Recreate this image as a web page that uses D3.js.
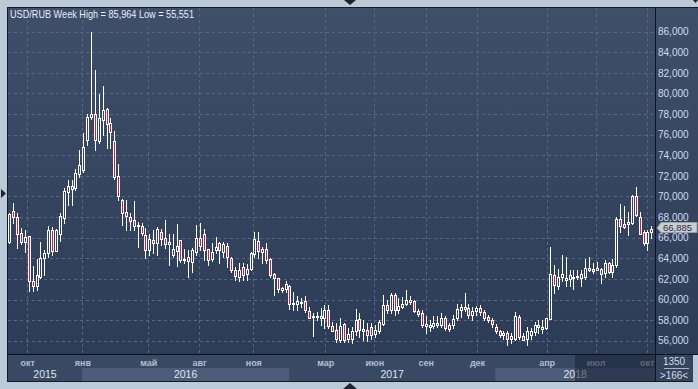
<!DOCTYPE html>
<html>
<head>
<meta charset="utf-8">
<script src="https://cdn.jsdelivr.net/npm/d3@7/dist/d3.min.js"></script>
<style>
  body { margin: 0; background: #bcc9d8; }
  svg { display: block; font-family: "Liberation Sans", Arial, sans-serif; }
</style>
</head>
<body>
<svg id="chart" width="698" height="389"></svg>
<script>
// Weekly USD/RUB candles (166 bars)
const opens = [
  65.6, 68.6, 68.0, 66.5, 65.6, 66.2, 61.8, 61.3, 62.2, 64.0,
  64.5, 66.75, 64.7, 66.4, 67.9, 70.4, 71.0, 70.8, 72.2, 72.6,
  75.5, 77.75, 78.0, 75.4, 77.4, 78.5, 77.1, 75.4, 72.0, 69.65,
  68.5, 68.0, 67.7, 67.1, 67.1, 66.25, 64.8, 65.8, 65.5, 66.6,
  66.0, 65.4, 64.3, 64.7, 65.8, 63.9, 64.15, 63.6, 64.6, 66.0,
  66.4, 64.95, 63.9, 64.8, 65.5, 64.6, 65.2, 64.0, 62.9, 62.2,
  63.2, 62.5, 63.0, 64.4, 65.7, 64.6, 64.95, 63.9, 62.5, 62.1,
  60.9, 61.0, 61.3, 59.6, 59.55, 59.65, 59.9, 58.9, 58.3, 58.4,
  58.2, 58.2, 59.0, 57.4, 57.0, 56.05, 57.6, 56.2, 56.15, 56.9,
  58.1, 57.1, 57.05, 57.3, 56.65, 56.95, 57.65, 59.5, 59.0, 60.45,
  59.0, 59.3, 59.6, 59.8, 59.85, 58.9, 58.7, 57.4, 57.3, 57.45,
  57.55, 57.5, 58.2, 57.5, 57.5, 58.2, 59.0, 59.3, 59.15, 58.45,
  58.9, 59.2, 58.8, 58.3, 58.0, 57.3, 56.95, 56.6, 56.7, 56.2,
  56.2, 58.3, 56.45, 56.15, 56.55, 56.8, 57.5, 57.1, 57.2, 58.1,
  62.35, 61.3, 62.15, 61.9, 61.95, 62.05, 62.15, 62.05, 62.15, 62.9,
  63.0, 62.9, 63.0, 62.55, 63.5, 62.7, 63.35, 67.8, 67.3, 67.3,
  67.45, 70.0, 68.05, 66.6, 65.5, 66.6,
];
const highs = [
  68.4, 69.4, 68.4, 66.9, 66.75, 66.2, 63.3, 63.9, 65.6, 64.8,
  67.1, 67.0, 66.8, 68.4, 70.8, 71.6, 71.6, 72.7, 74.5, 76.2,
  78.0, 85.964, 82.3, 79.95, 80.7, 78.6, 77.6, 76.4, 73.15, 69.8,
  69.65, 68.4, 69.6, 67.55, 67.4, 66.9, 66.4, 66.75, 67.05, 66.8,
  67.7, 66.4, 66.4, 67.3, 65.8, 64.9, 64.85, 65.0, 67.2, 67.45,
  66.8, 64.95, 65.45, 66.1, 65.6, 65.6, 65.45, 64.15, 63.2, 63.5,
  63.5, 63.4, 64.6, 66.6, 66.6, 65.1, 65.5, 64.0, 62.55, 62.1,
  61.2, 61.8, 61.4, 60.7, 60.35, 60.1, 60.3, 59.3, 58.65, 58.8,
  59.15, 59.5, 59.5, 57.85, 57.7, 58.2, 57.7, 57.2, 57.35, 59.05,
  58.65, 58.0, 57.7, 57.75, 57.5, 58.0, 60.45, 59.95, 60.65, 60.6,
  60.1, 60.25, 60.9, 60.35, 60.0, 59.05, 59.0, 58.35, 58.0, 58.4,
  58.4, 58.65, 58.35, 57.7, 58.5, 59.6, 59.6, 60.65, 59.6, 59.3,
  59.35, 59.45, 59.0, 58.5, 58.2, 57.6, 57.0, 56.95, 56.9, 56.7,
  58.8, 58.5, 56.7, 57.35, 57.2, 57.85, 58.05, 58.0, 58.2, 65.1,
  63.35, 63.0, 64.3, 64.15, 62.85, 62.85, 62.9, 62.9, 63.9, 64.15,
  63.55, 63.65, 63.1, 63.85, 63.65, 63.9, 68.05, 69.3, 69.05, 68.5,
  70.15, 70.9, 68.5, 66.75, 66.75, 67.15,
];
const lows = [
  65.5, 67.4, 65.0, 65.4, 64.6, 60.8, 60.8, 60.9, 62.1, 62.4,
  64.1, 64.3, 64.7, 65.7, 67.4, 69.2, 69.2, 70.6, 71.9, 72.4,
  75.0, 77.5, 74.5, 75.2, 76.0, 74.7, 74.7, 71.7, 69.65, 67.2,
  66.75, 66.75, 66.75, 65.1, 66.25, 64.0, 64.3, 64.5, 64.3, 65.3,
  65.0, 63.35, 64.15, 63.3, 63.6, 63.5, 62.2, 62.7, 64.3, 64.8,
  63.8, 63.35, 63.75, 64.5, 63.5, 64.1, 63.2, 62.7, 61.9, 61.8,
  61.9, 61.9, 62.9, 64.15, 64.0, 63.5, 63.5, 62.2, 60.4, 60.75,
  60.75, 60.7, 59.1, 59.0, 58.95, 59.3, 58.8, 58.2, 56.45, 58.0,
  57.5, 57.2, 57.2, 56.9, 55.9, 55.9, 55.9, 55.9, 55.8, 56.55,
  56.4, 56.05, 56.0, 56.2, 56.4, 56.7, 57.5, 58.65, 58.65, 58.5,
  58.65, 59.15, 59.5, 59.6, 58.8, 58.4, 57.35, 56.75, 56.9, 57.2,
  57.35, 57.3, 57.05, 56.95, 57.2, 58.0, 58.3, 58.9, 58.2, 58.0,
  58.5, 58.5, 58.05, 57.85, 57.35, 56.7, 56.4, 56.2, 55.551, 55.8,
  56.1, 56.2, 56.05, 55.6, 56.2, 56.55, 56.7, 56.7, 57.1, 58.1,
  60.6, 61.0, 61.75, 61.3, 61.3, 61.0, 61.95, 61.3, 61.95, 62.8,
  62.6, 62.85, 61.6, 62.15, 62.55, 62.15, 63.2, 66.6, 66.9, 66.25,
  67.3, 68.1, 66.4, 65.3, 64.8, 65.95,
];
const closes = [
  68.3, 68.0, 66.4, 65.6, 66.1, 61.8, 61.3, 62.4, 64.0, 64.5,
  66.75, 64.7, 66.7, 68.1, 70.5, 71.0, 70.7, 72.25, 73.1, 74.8,
  77.75, 78.0, 75.5, 77.6, 78.4, 77.0, 76.3, 71.9, 70.0, 68.4,
  68.1, 67.65, 67.1, 67.2, 66.5, 64.8, 65.9, 65.45, 66.8, 65.9,
  65.35, 65.6, 64.9, 65.2, 63.8, 63.8, 63.7, 64.8, 65.95, 65.2,
  64.8, 63.8, 64.6, 65.1, 64.8, 65.35, 64.1, 62.9, 62.3, 62.9,
  62.4, 62.95, 64.5, 65.9, 64.75, 64.9, 63.8, 62.4, 62.1, 61.0,
  61.1, 61.55, 59.6, 59.7, 59.9, 59.8, 59.0, 58.25, 58.35, 58.4,
  58.4, 59.0, 57.4, 56.9, 56.2, 57.4, 56.05, 56.65, 56.95, 58.0,
  57.05, 56.9, 56.55, 56.55, 57.05, 57.85, 59.5, 58.95, 60.45, 59.0,
  59.35, 59.6, 60.0, 59.95, 58.9, 58.55, 57.5, 57.65, 57.5, 57.7,
  57.7, 58.2, 57.2, 57.1, 58.1, 59.05, 59.25, 59.05, 58.45, 58.9,
  59.15, 58.8, 58.25, 58.05, 57.6, 56.95, 56.55, 56.7, 56.2, 56.5,
  58.35, 56.4, 56.1, 56.9, 56.9, 57.5, 57.3, 57.3, 58.2, 62.45,
  61.4, 62.15, 62.45, 62.1, 62.4, 62.2, 62.3, 62.45, 63.1, 63.1,
  62.8, 63.05, 62.45, 63.5, 62.7, 63.35, 67.8, 67.15, 67.0, 67.55,
  70.0, 68.2, 66.4, 65.5, 66.6, 66.885,
];

// price axis ticks
const yTicks = d3.range(56, 87, 2);
// month ticks (bar positions) and labels
const monthPos = [4.6, 18.8, 35.7, 48.8, 62.7, 81.2, 93.8, 107, 120.2, 138.1, 150.7, 163.8];
const monthLabels = ['окт', 'янв', 'май', 'авг', 'ноя', 'мар', 'июн', 'сен', 'дек', 'апр', 'июл', 'окт'];
// years and the bar position where each starts
const years = ['2015', '2016', '2017', '2018'];
const yearStart = [-1, 18.7, 71.9, 124.9];
const viewStart = 145.4; // shaded part of the time scale

const svg = d3.select('#chart');
const plot = { left: 8, right: 655, top: 8, bottom: 354 };
const ru = d3.formatLocale({ decimal: ',', thousands: ' ', grouping: [3], currency: ['', ''] });
const fmt = ru.format('.3f');

const x = d3.scaleLinear().domain([0, opens.length - 1]).range([9.3, 651.3]);
const y = d3.scaleLinear().domain([56, 86]).range([340.7, 31.7]);

const candles = opens.map((o, i) => ({
  i, o, h: highs[i], l: lows[i], c: closes[i],
}));

// background gradient
const defs = svg.append('defs');
const grad = defs.append('linearGradient').attr('id', 'bg')
  .attr('gradientUnits', 'userSpaceOnUse')
  .attr('x1', 0).attr('y1', plot.top).attr('x2', 0).attr('y2', plot.bottom);
grad.append('stop').attr('offset', 0).attr('stop-color', '#3f4e69');
grad.append('stop').attr('offset', 1).attr('stop-color', '#2c3b56');
defs.append('clipPath').attr('id', 'clip').append('rect')
  .attr('x', plot.left).attr('y', plot.top)
  .attr('width', plot.right - plot.left).attr('height', plot.bottom - plot.top);

// panel
svg.append('rect').attr('x', 7.5).attr('y', 7.5).attr('width', 700).attr('height', 374)
  .attr('fill', 'url(#bg)').attr('stroke', '#131a28');

// grid
const grid = svg.append('g').attr('stroke', '#56668a').attr('stroke-dasharray', '3,3');
grid.selectAll('.hg').data(yTicks).enter().append('line')
  .attr('x1', plot.left).attr('x2', plot.right)
  .attr('y1', d => Math.round(y(d)) + 0.5).attr('y2', d => Math.round(y(d)) + 0.5);
grid.selectAll('.vg').data(monthPos).enter().append('line')
  .attr('x1', d => Math.round(x(d)) + 0.5).attr('x2', d => Math.round(x(d)) + 0.5)
  .attr('y1', plot.top).attr('y2', plot.bottom);

// candles
const g = svg.append('g').attr('clip-path', 'url(#clip)');
g.selectAll('.wick').data(candles).enter().append('line')
  .attr('x1', d => Math.round(x(d.i)) + 0.5).attr('x2', d => Math.round(x(d.i)) + 0.5)
  .attr('y1', d => Math.round(y(d.h))).attr('y2', d => Math.round(y(d.l)) + 1)
  .attr('stroke', '#fff');
g.selectAll('.body').data(candles).enter().append('rect')
  .attr('x', d => Math.round(x(d.i)) - 0.5)
  .attr('width', 2)
  .attr('y', d => Math.round(y(Math.max(d.o, d.c))) + 0.5)
  .attr('height', d => Math.max(1, Math.round(y(Math.min(d.o, d.c))) - Math.round(y(Math.max(d.o, d.c)))))
  .attr('fill', d => (d.c >= d.o ? 'url(#bg)' : '#e0173c'))
  .attr('stroke', '#fff');

// title, squeezed to the width it has in the picture
const title = svg.append('text').attr('x', 10).attr('y', 18)
  .attr('font-size', '10.5px').attr('fill', '#e8eef7')
  .text(`USD/RUB Week High = ${fmt(d3.max(highs))} Low = ${fmt(d3.min(lows))}`);
if (title.node().getComputedTextLength() > 184) {
  title.attr('textLength', 184).attr('lengthAdjust', 'spacingAndGlyphs');
}

// price axis
const yAxis = svg.append('g').attr('transform', `translate(${plot.right},0)`)
  .call(d3.axisRight(y).tickValues(yTicks).tickFormat(fmt).tickSize(0).tickPadding(3));
yAxis.select('.domain').remove();
yAxis.selectAll('text').attr('font-size', '10px').attr('fill', '#cfdcf0')
  .attr('font-family', '"Liberation Sans", Arial, sans-serif');

// last price tag
const last = closes[closes.length - 1];
const ly = Math.round(y(last)) - 1;
svg.append('path')
  .attr('d', `M657,${ly}L661,${ly - 5.5}H697V${ly + 4.5}H661Z`)
  .attr('fill', '#c9cdd4').attr('stroke', '#9aa0aa');
svg.append('text').attr('x', 663).attr('y', ly + 3)
  .attr('font-size', '9.5px').attr('fill', '#2b2f38').text(fmt(last));

// time axis area
const axisTop = 355;
svg.append('rect').attr('x', plot.left).attr('y', axisTop)
  .attr('width', plot.right - plot.left).attr('height', 26).attr('fill', '#3a4963');
svg.selectAll('.yband').data(years).enter().append('rect')
  .filter((d, i) => i % 2 === 1)
  .attr('x', (d) => x(yearStart[years.indexOf(d)]))
  .attr('y', 368)
  .attr('width', (d) => {
    const k = years.indexOf(d);
    const end = k + 1 < years.length ? x(yearStart[k + 1]) : plot.right;
    return end - x(yearStart[k]);
  })
  .attr('height', 13)
  .attr('fill', '#4c5b76');

const xAxis = svg.append('g').attr('transform', `translate(0,${axisTop})`)
  .call(d3.axisBottom(x).tickValues(monthPos).tickFormat((d, i) => monthLabels[i])
    .tickSize(0).tickPadding(5));
xAxis.select('.domain').remove();
xAxis.selectAll('text').attr('font-size', '9px').attr('font-weight', 'bold')
  .attr('fill', '#b0bed3').attr('font-family', '"Liberation Sans", Arial, sans-serif');

svg.selectAll('.ylab').data(years).enter().append('text')
  .attr('x', (d, i) => {
    const start = Math.max(plot.left, x(yearStart[i]));
    const end = i + 1 < years.length ? x(yearStart[i + 1]) : plot.right;
    return (start + end) / 2;
  })
  .attr('y', 377.5)
  .attr('text-anchor', 'middle').attr('font-size', '10.5px').attr('fill', '#dfe7f1')
  .text(d => d);

// shaded end of time scale
svg.append('rect').attr('x', x(viewStart)).attr('y', axisTop)
  .attr('width', plot.right - x(viewStart)).attr('height', 26)
  .attr('fill', 'rgba(24,33,52,0.55)');

// separator lines
svg.append('line').attr('x1', plot.right + 0.5).attr('x2', plot.right + 0.5)
  .attr('y1', plot.top).attr('y2', 381).attr('stroke', '#0d1320');
svg.append('line').attr('x1', plot.left).attr('x2', 698)
  .attr('y1', plot.bottom + 0.5).attr('y2', plot.bottom + 0.5).attr('stroke', '#0d1320');

// corner box
svg.append('rect').attr('x', 656).attr('y', 355).attr('width', 37).attr('height', 26)
  .attr('fill', '#35435c');
svg.append('rect').attr('x', 693).attr('y', 355).attr('width', 5).attr('height', 34)
  .attr('fill', '#bcc9d8');
svg.append('text').attr('x', 674).attr('y', 364.5).attr('text-anchor', 'middle')
  .attr('font-size', '10px').attr('fill', '#d3dcea').text('1350');
svg.append('line').attr('x1', 664).attr('x2', 689).attr('y1', 368.5).attr('y2', 368.5)
  .attr('stroke', '#a9b6c8');
svg.append('text').attr('x', 674).attr('y', 378.5).attr('text-anchor', 'middle')
  .attr('font-size', '10px').attr('fill', '#d3dcea').text(`>${opens.length}<`);

// small arrow marks on the frame
const marks = [
  'M344,0H356L350,5Z', 'M343,389L350,383L357,389Z', 'M1,189L6,193.5L1,198Z', 'M693,0H698L695.5,3Z',
];
svg.selectAll('.mark').data(marks).enter().append('path')
  .attr('d', d => d).attr('fill', '#1d2431');
</script>
</body>
</html>
